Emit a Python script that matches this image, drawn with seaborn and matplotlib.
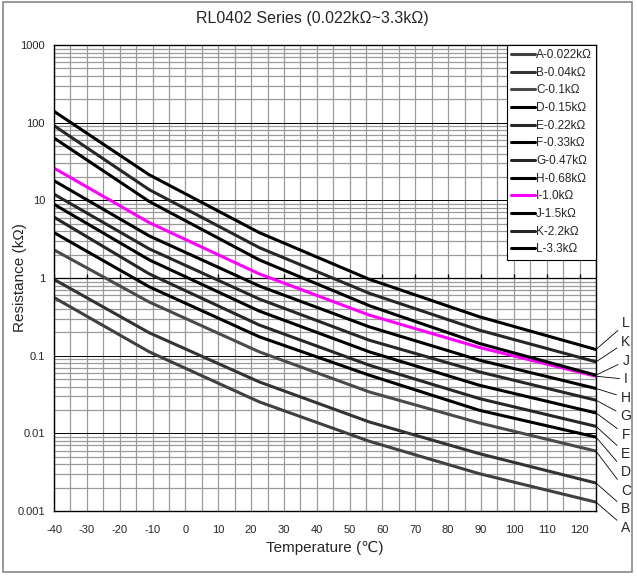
import numpy as np
import pandas as pd
import matplotlib
matplotlib.use('Agg')
import matplotlib.pyplot as plt
import seaborn as sns
from matplotlib.ticker import LogLocator, NullFormatter, FuncFormatter, MultipleLocator
from matplotlib.patches import Rectangle

temps = [-40, -11, 22.5, 56, 89.5, 125]

# resistance in kOhm for each part
res_A = [0.56, 0.112, 0.0254, 0.0079, 0.00302, 0.0013]
res_B = [0.96, 0.197, 0.0459, 0.014, 0.00547, 0.00229]
res_C = [2.30, 0.49, 0.112, 0.0341, 0.0136, 0.0059]
res_D = [3.84, 0.77, 0.175, 0.056, 0.0198, 0.00895]
res_E = [6.07, 1.13, 0.248, 0.0753, 0.028, 0.0123]
res_F = [8.9, 1.71, 0.375, 0.112, 0.0416, 0.0183]
res_G = [12.0, 2.37, 0.536, 0.158, 0.0618, 0.0267]
res_H = [17.9, 3.48, 0.789, 0.235, 0.0875, 0.0378]
res_I = [26.0, 5.17, 1.13, 0.333, 0.1276, 0.0543]
res_J = [63.5, 9.66, 1.71, 0.44, 0.1435, 0.056]
res_K = [91.5, 13.7, 2.46, 0.635, 0.213, 0.0832]
res_L = [140, 21.3, 3.84, 0.962, 0.317, 0.120]

letters = ['A', 'B', 'C', 'D', 'E', 'F', 'G', 'H', 'I', 'J', 'K', 'L']
labels = ['A-0.022kΩ', 'B-0.04kΩ', 'C-0.1kΩ', 'D-0.15kΩ', 'E-0.22kΩ', 'F-0.33kΩ',
          'G-0.47kΩ', 'H-0.68kΩ', 'I-1.0kΩ', 'J-1.5kΩ', 'K-2.2kΩ', 'L-3.3kΩ']
all_res = [res_A, res_B, res_C, res_D, res_E, res_F, res_G, res_H, res_I, res_J, res_K, res_L]
colors = ['#404040', '#333333', '#4a4a4a', '#000000', '#262626', '#000000',
          '#262626', '#000000', '#ff00ff', '#000000', '#262626', '#000000']

rows = []
for lab, vals in zip(labels, all_res):
    for t, v in zip(temps, vals):
        rows.append({'temp': t, 'res': v, 'series': lab})
df = pd.DataFrame(rows)

sns.set_style('white')
plt.rcParams['font.family'] = ['Liberation Sans', 'DejaVu Sans', 'Noto Sans CJK SC']
plt.rcParams['axes.unicode_minus'] = False

fig = plt.figure(figsize=(6.37, 5.77), dpi=100)
ax = fig.add_axes([0.0848, 0.1144, 0.8508, 0.8076])

sns.lineplot(data=df, x='temp', y='res', hue='series', hue_order=labels,
             palette=dict(zip(labels, colors)), lw=2.2, ax=ax,
             estimator=None, sort=False)

ax.set_yscale('log')
ax.set_ylim(0.001, 1000)
ax.set_xlim(-40, 125)
ax.set_xticks(np.arange(-40, 121, 10))
ax.xaxis.set_minor_locator(MultipleLocator(5))
ax.yaxis.set_major_locator(LogLocator(base=10, numticks=10))
ax.yaxis.set_minor_locator(LogLocator(base=10, subs=np.arange(2, 10), numticks=20))
ax.yaxis.set_minor_formatter(NullFormatter())
ax.yaxis.set_major_formatter(FuncFormatter(lambda v, p: f'{v:g}'))

ax.set_axisbelow(True)
ax.grid(which='both', axis='x', color='#9a9a9a', lw=0.9)
ax.grid(which='minor', axis='y', color='#9a9a9a', lw=0.9)
ax.grid(which='major', axis='y', color='#000000', lw=0.7)

# horizontal axis crossing at 1 with its ticks
ax.axhline(1, color='black', lw=0.9, zorder=1.5)
ax.vlines(np.arange(-40, 126, 10), 1, 1.13, color='black', lw=0.9, zorder=1.5)

ax.tick_params(which='both', length=0)
ax.tick_params(axis='x', labelsize=8, pad=10)
ax.tick_params(axis='y', labelsize=8, pad=6.5)
for s in ax.spines.values():
    s.set_color('black')
    s.set_linewidth(1)

ax.set_xlabel('Temperature (℃)', fontsize=11)
ax.set_ylabel('Resistance (kΩ)', fontsize=11)
ax.xaxis.set_label_coords(0.5, -0.064)
ax.yaxis.set_label_coords(-0.05, 0.5)

sns.move_legend(ax, 'upper right', title=None, fontsize=8.5, frameon=True,
                fancybox=False, edgecolor='black', framealpha=1,
                borderaxespad=0, handlelength=2.0, handletextpad=0.1,
                labelspacing=0.48, borderpad=0.35)
ax.get_legend().get_frame().set_linewidth(0.8)

# letter tags on the right with leader lines
for i, (let, vals) in enumerate(zip(letters, all_res)):
    py = 528 - i * 18.6
    ax.annotate(let, xy=(125, vals[-1]), xycoords='data',
                xytext=(626 / 637, 1 - py / 577), textcoords='figure fraction',
                ha='center', va='center', fontsize=10, annotation_clip=False,
                arrowprops=dict(arrowstyle='-', color='black', lw=0.6,
                                shrinkA=1, shrinkB=0))

fig.text(0.49, 1 - 18 / 577, 'RL0402 Series (0.022kΩ~3.3kΩ)',
         ha='center', va='center', fontsize=11.5)

fig.patches.append(Rectangle((0.005, 0.0087), 0.987, 0.988, transform=fig.transFigure,
                             fill=False, edgecolor='#888888', lw=1.2))

fig.savefig('out.png', dpi=100)
